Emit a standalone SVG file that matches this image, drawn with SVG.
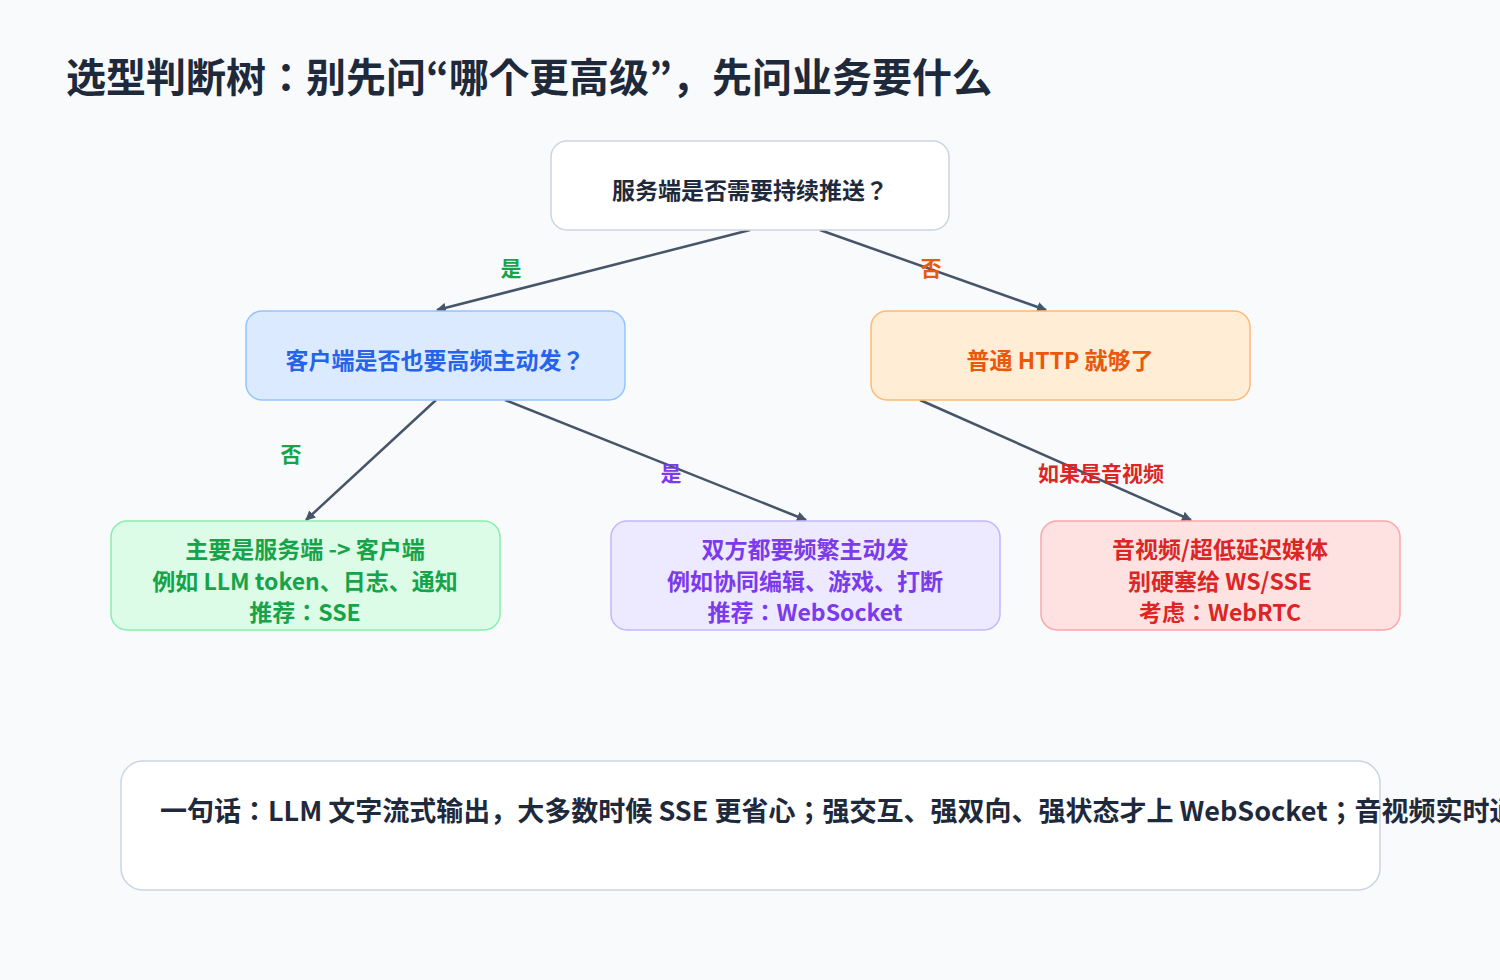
<svg xmlns="http://www.w3.org/2000/svg" width="1500" height="980" viewBox="0 0 1500 980">
<defs>
<marker id="arr" markerWidth="10" markerHeight="10" refX="9" refY="5" orient="auto" markerUnits="userSpaceOnUse" viewBox="0 0 10 10"><path d="M0,0 L10,5 L0,10 z" fill="#475569"/></marker>
<style>
text{font-family:"Noto Sans CJK JP","Noto Sans",sans-serif;font-weight:bold}
.n{font-size:23px;text-anchor:middle}
.l{font-size:21px;text-anchor:middle}
.e{stroke:#475569;stroke-width:2.5;fill:none;marker-end:url(#arr)}
</style>
</defs>
<rect width="1500" height="980" fill="#f8fafc"/>
<text x="66" y="92" font-size="40" fill="#1e293b">选型判断树：别先问“哪个更高级”，先问业务要什么</text>
<g id="connectors">
<line class="e" x1="750" y1="230" x2="437" y2="310"/>
<line class="e" x1="820" y1="230" x2="1046" y2="310"/>
<line class="e" x1="436" y1="400" x2="306" y2="520"/>
<line class="e" x1="505" y1="400" x2="806" y2="520"/>
<line class="e" x1="920" y1="400" x2="1191" y2="520"/>
<text class="l" x="511" y="276" fill="#16a34a">是</text>
<text class="l" x="931" y="276" fill="#ea580c">否</text>
<text class="l" x="291" y="462" fill="#16a34a">否</text>
<text class="l" x="671" y="481" fill="#7c3aed">是</text>
<text class="l" x="1101" y="481" fill="#dc2626">如果是音视频</text>
</g>
<g id="q1"><rect x="551" y="141" width="398" height="89" rx="16" fill="#ffffff" stroke="#cbd5e1" stroke-width="1.5"/><text class="n" x="750" y="199" fill="#1e293b">服务端是否需要持续推送？</text></g>
<g id="q2"><rect x="246" y="311" width="379" height="89" rx="16" fill="#dbeafe" stroke="#93c5fd" stroke-width="1.5"/><text class="n" x="435" y="369" fill="#2563eb">客户端是否也要高频主动发？</text></g>
<g id="http"><rect x="871" y="311" width="379" height="89" rx="16" fill="#ffedd5" stroke="#fdba74" stroke-width="1.5"/><text class="n" x="1060" y="369" fill="#ea580c">普通 HTTP 就够了</text></g>
<g id="sse"><rect x="111" y="521" width="389" height="109" rx="16" fill="#dcfce7" stroke="#86efac" stroke-width="1.5"/><text class="n" fill="#16a34a"><tspan x="305" y="558">主要是服务端 -&gt; 客户端</tspan><tspan x="305" y="590">例如 LLM token、日志、通知</tspan><tspan x="305" y="621">推荐：SSE</tspan></text></g>
<g id="ws"><rect x="611" y="521" width="389" height="109" rx="16" fill="#ede9fe" stroke="#c4b5fd" stroke-width="1.5"/><text class="n" fill="#7c3aed"><tspan x="805" y="558">双方都要频繁主动发</tspan><tspan x="805" y="590">例如协同编辑、游戏、打断</tspan><tspan x="805" y="621">推荐：WebSocket</tspan></text></g>
<g id="rtc"><rect x="1041" y="521" width="359" height="109" rx="16" fill="#fee2e2" stroke="#fca5a5" stroke-width="1.5"/><text class="n" fill="#dc2626"><tspan x="1220" y="558">音视频/超低延迟媒体</tspan><tspan x="1220" y="590">别硬塞给 WS/SSE</tspan><tspan x="1220" y="621">考虑：WebRTC</tspan></text></g>
<g id="summary"><rect x="121" y="761" width="1259" height="129" rx="22" fill="#ffffff" stroke="#cbd5e1" stroke-width="1.5"/><text x="160" y="821" font-size="27" fill="#1e293b">一句话：LLM 文字流式输出，大多数时候 SSE 更省心；强交互、强双向、强状态才上 WebSocket；音视频实时通信看 WebRTC。</text></g>
</svg>
